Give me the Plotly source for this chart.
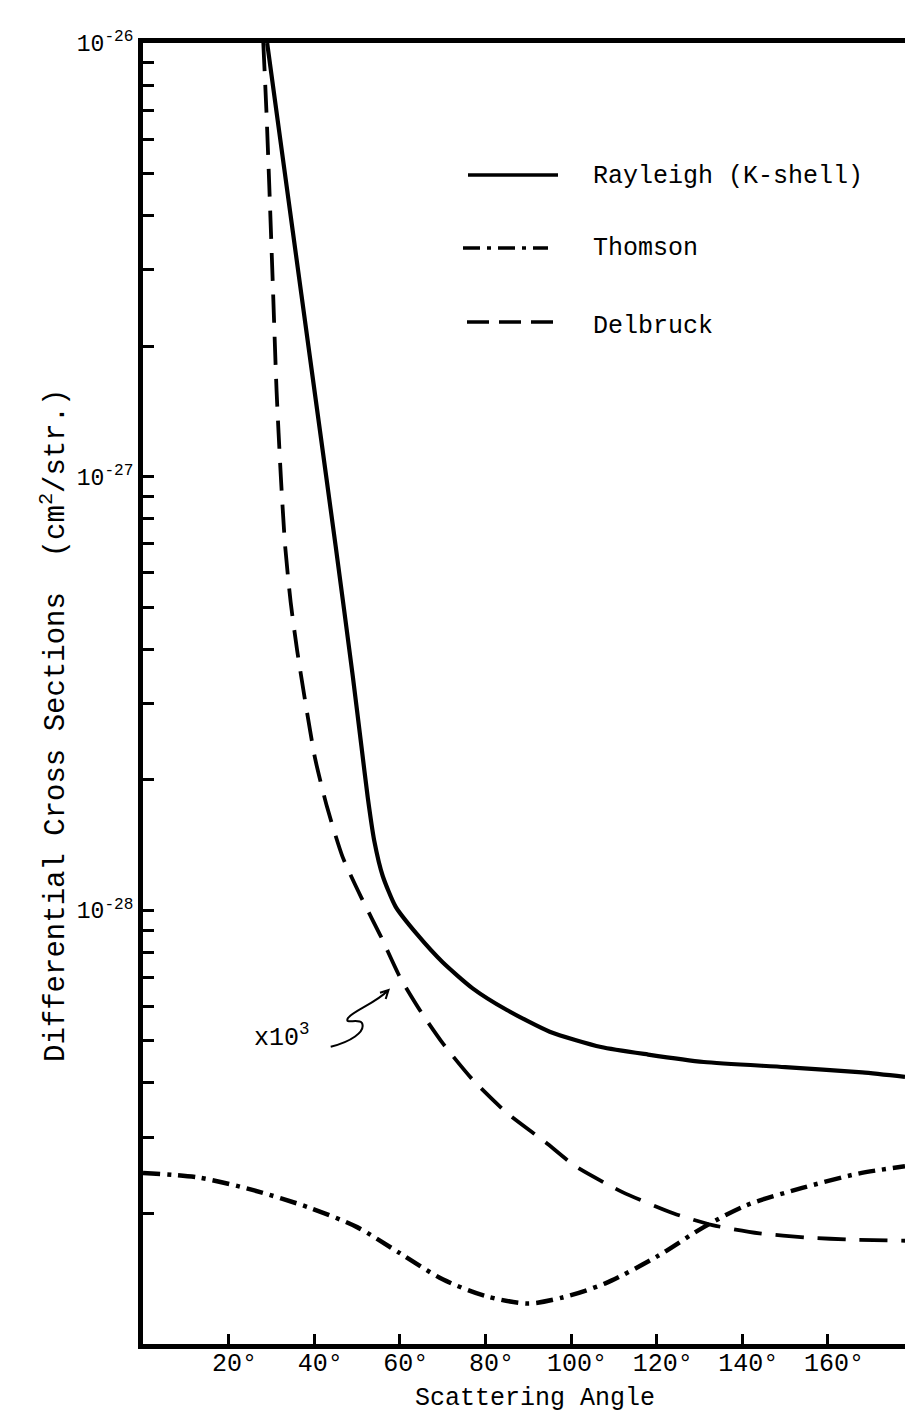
import plotly.graph_objects as go

# Scattering angle (degrees) and differential cross sections (cm^2/str.)
rayleigh_angle = [29, 33, 37, 41, 45, 49, 51, 52.5, 54, 56, 59, 64, 70, 77, 85, 95,
                  107, 118, 131, 150, 168, 178]
rayleigh_xs = [1.00e-26, 5.13e-27, 2.63e-27, 1.35e-27, 6.92e-28, 3.47e-28, 2.40e-28,
               1.82e-28, 1.45e-28, 1.20e-28, 1.02e-28, 8.81e-29, 7.59e-29, 6.61e-29,
               5.89e-29, 5.25e-29, 4.84e-29, 4.65e-29, 4.47e-29, 4.35e-29, 4.23e-29,
               4.13e-29]

thomson_angle = [0, 13, 26, 39, 50, 60, 70, 80, 90, 98, 108, 120, 131, 141, 154, 167, 178]
thomson_xs = [2.48e-29, 2.42e-29, 2.26e-29, 2.06e-29, 1.86e-29, 1.62e-29, 1.41e-29,
              1.29e-29, 1.24e-29, 1.28e-29, 1.38e-29, 1.59e-29, 1.86e-29, 2.09e-29,
              2.29e-29, 2.47e-29, 2.57e-29]

# Delbruck values are plotted scaled by 10^3
delbruck_angle = [28.1, 28.8, 29.5, 30.3, 31.2, 32.2, 33.2, 34.5, 36, 38, 40.2, 43, 46.6,
                  51, 55.6, 60, 65, 70, 77, 85, 94, 101, 112, 124, 133, 144, 155, 166, 178]
delbruck_xs = [1.00e-26, 7.08e-27, 4.68e-27, 2.82e-27, 1.58e-27, 1.00e-27, 6.92e-28,
               5.13e-28, 3.98e-28, 2.99e-28, 2.24e-28, 1.73e-28, 1.33e-28, 1.07e-28,
               8.69e-29, 7.02e-29, 5.82e-29, 4.94e-29, 4.07e-29, 3.41e-29, 2.92e-29,
               2.57e-29, 2.24e-29, 2.00e-29, 1.88e-29, 1.80e-29, 1.76e-29, 1.74e-29,
               1.73e-29]

x_ticks = [20, 40, 60, 80, 100, 120, 140, 160]
x_tick_text = [f"{v}°" for v in x_ticks]

labelled_decades = [-26, -27, -28]
minor_decades = [-29, -28, -27]

FONT = "Liberation Mono"
INK = "black"
DASH = "28px,14px"
DASHDOT = "17px,7px,4px,7px"

# labelled decade ticks, plus unlabelled 2..9 x 10^n ticks
y_tickvals = [10.0 ** d for d in labelled_decades]
y_ticktext = [f"10<sup>{d}</sup>" for d in labelled_decades]
y_minorvals = [k * 10.0 ** d for d in minor_decades for k in range(2, 10)]

W, H = 905, 1413
L, R, T, B = 143, 0, 43, 69
PW, PH = W - L - R, H - T - B


def px(x, y):
    """pixel position on the page -> paper fraction"""
    return (x - L) / PW, (H - B - y) / PH


fig = go.Figure()
fig.add_trace(go.Scatter(x=rayleigh_angle, y=rayleigh_xs, mode="lines", name="Rayleigh (K-shell)",
                         line=dict(color=INK, width=4.2, shape="spline", smoothing=0.6)))
fig.add_trace(go.Scatter(x=thomson_angle, y=thomson_xs, mode="lines", name="Thomson",
                         line=dict(color=INK, width=4.5, dash=DASHDOT, shape="spline", smoothing=0.8)))
fig.add_trace(go.Scatter(x=delbruck_angle, y=delbruck_xs, mode="lines", name="Delbruck",
                         line=dict(color=INK, width=3.8, dash=DASH, shape="spline", smoothing=0.6)))

shapes = []
annotations = []

# legend drawn as long line samples with labels
legend_rows = [
    ("Rayleigh (K-shell)", None, 468, 558, 175, 177),
    ("Thomson", DASHDOT, 463, 548, 248, 249),
    ("Delbruck", "22px,10px", 467, 555, 322, 327),
]
for label, dash, x0, x1, yl, yt in legend_rows:
    a0, b0 = px(x0, yl)
    a1, _ = px(x1, yl)
    line = dict(color=INK, width=3.5)
    if dash:
        line["dash"] = dash
    shapes.append(dict(type="line", xref="paper", yref="paper", x0=a0, x1=a1, y0=b0, y1=b0, line=line))
    tx, ty = px(591, yt)
    annotations.append(dict(text=label, xref="paper", yref="paper", x=tx, y=ty, xanchor="left",
                            yanchor="middle", showarrow=False, font=dict(family=FONT, size=25, color=INK)))

# "x10^3" note with a wavy arrow pointing at the Delbruck curve
nx, ny = px(252, 1036)
annotations.append(dict(text="x10<sup>3</sup>", xref="paper", yref="paper", x=nx, y=ny,
                        xanchor="left", yanchor="middle", showarrow=False,
                        font=dict(family=FONT, size=25, color=INK)))
squiggle_pts = [("M", 330.7, 1046.7), ("C", 350, 1042), ("", 366, 1032), ("", 362, 1023),
                ("C", 358, 1018), ("", 344, 1025), ("", 348, 1018),
                ("C", 353, 1011), ("", 376, 1003), ("", 388.5, 990),
                ("M", 380, 992.7), ("L", 388.5, 990), ("L", 385.7, 999)]
path = ""
for cmd, x, y in squiggle_pts:
    a, b = px(x, y)
    path += f"{cmd}{a:.5f},{b:.5f} "
shapes.append(dict(type="path", xref="paper", yref="paper", path=path.strip(),
                   line=dict(color=INK, width=2)))

# axis titles
ax_, ay_ = px(54, 726)
annotations.append(dict(text="Differential Cross Sections  (cm<sup>2</sup>/str.)", xref="paper",
                        yref="paper", x=ax_, y=ay_, xanchor="center", yanchor="middle",
                        textangle=-90, showarrow=False, font=dict(family=FONT, size=29, color=INK)))
bx, by = px(535, 1398)
annotations.append(dict(text="Scattering Angle", xref="paper", yref="paper", x=bx, y=by,
                        xanchor="center", yanchor="middle", showarrow=False,
                        font=dict(family=FONT, size=25, color=INK)))

fig.update_layout(
    width=W, height=H, autosize=False,
    margin=dict(l=L, r=R, t=T, b=B, pad=0),
    paper_bgcolor="white", plot_bgcolor="white",
    showlegend=False,
    shapes=shapes, annotations=annotations,
    xaxis=dict(range=[0, 178], tickvals=x_ticks, ticktext=x_tick_text, ticks="inside",
               ticklen=10, tickwidth=3, tickcolor=INK, showline=True, linewidth=5, linecolor=INK,
               mirror=True, showgrid=False, zeroline=False, ticklabelstandoff=-8,
               ticklabelshift=6, tickfont=dict(family=FONT, size=25, color=INK)),
    yaxis=dict(type="log", range=[-29, -26], tickvals=y_tickvals, ticktext=y_ticktext,
               ticks="inside", ticklen=11, tickwidth=3, tickcolor=INK, showline=True,
               linewidth=5, linecolor=INK, showgrid=False, zeroline=False,
               minor=dict(tickvals=y_minorvals, ticks="inside", ticklen=11, tickwidth=3,
                          tickcolor=INK, showgrid=False),
               tickfont=dict(family=FONT, size=23, color=INK)),
)

fig.write_html("out.html")
